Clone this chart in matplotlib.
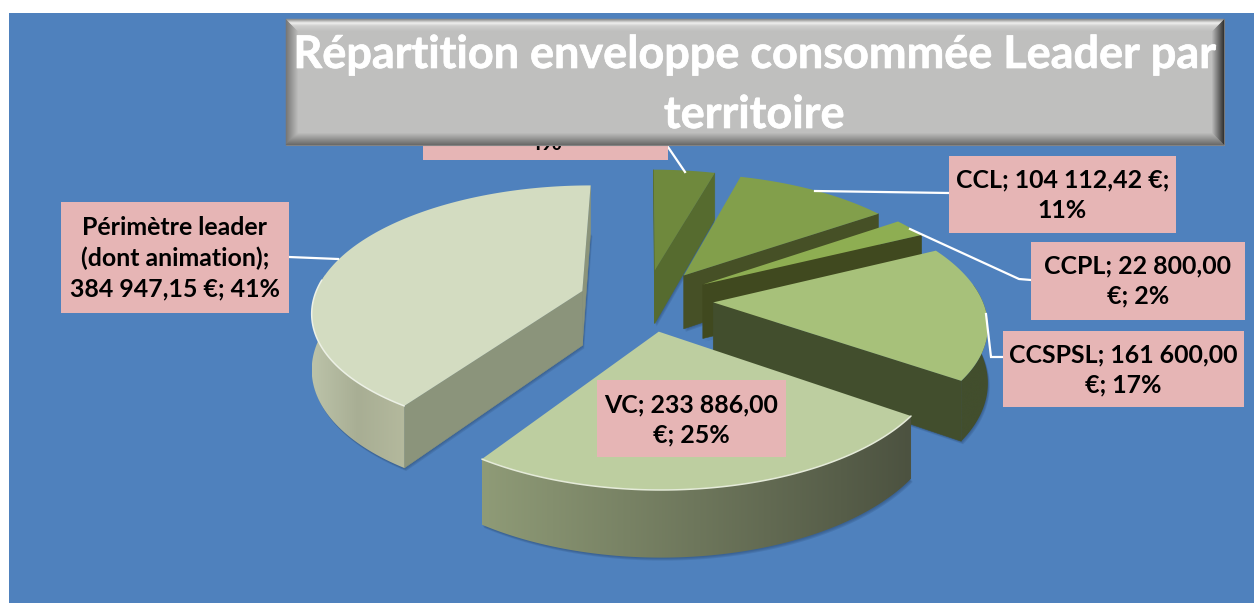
# -*- coding: utf-8 -*-
import numpy as np
import matplotlib
matplotlib.use("Agg")
import matplotlib.pyplot as plt
from matplotlib.colors import LinearSegmentedColormap, to_rgb
from matplotlib.patches import Polygon, Rectangle
import matplotlib.patheffects as pe

plt.rcParams["font.family"] = ["Lato", "DejaVu Sans"]

# Clockwise from the top. The amount of the 4% slice is hidden by the title, so it is an estimate.
values = [41000.00, 104112.42, 22800.00, 161600.00, 233886.00, 384947.15]

title_lines = ["Répartition enveloppe consommée Leader par", "territoire"]
labels = [
    "4%",
    "CCL; 104 112,42 €;\n11%",
    "CCPL; 22 800,00\n€; 2%",
    "CCSPSL; 161 600,00\n€; 17%",
    "VC; 233 886,00\n€; 25%",
    "Périmètre leader\n(dont animation);\n384 947,15 €; 41%",
]

# projection of the pie plane to pixels
CX, CY = 646, 300
RX, RY = 269, 124
PERSP = 0.15
EXPLODE = 0.25
DEPTH = 55

top_cols = ["#6f893d", "#829f4b", "#8eae52", "#a7c17a", "#bdcea0", "#d3dcc1"]
wall_cols = ["#566b2f", "#465026", "#40491f", "#424e2d", "#4c5240", "#8b947b"]
# rim colours, left to right
rim_cols = [["#566b2f", "#566b2f"], ["#465026", "#465026"], ["#40491f", "#40491f"],
            ["#424e2d", "#424e2d"], ["#8f9b77", "#4c5240"], ["#bcc3a9", "#a8ae94", "#b4b99d"]]
draw_order = [0, 1, 2, 3, 5, 4]

# x0, y0, x1, y1 of the label boxes
boxes = [
    (423, 100, 668, 160),
    (949, 156, 1176, 233),
    (1031, 242, 1245, 320),
    (1003, 331, 1244, 407),
    (597, 380, 786, 457),
    (61, 202, 289, 313),
]
text_y = [142, 195, 281, 370, 420, 258]
title_y = [55, 115]
leaders = [
    [(668, 147), (685, 172)],
    [(815, 191), (949, 193)],
    [(910, 229), (1019, 279), (1031, 280)],
    [(986, 314), (991, 357), (1003, 357)],
    [(289, 257), (338, 259)],
]


def project(x, y, down=0.0):
    w = 1 + PERSP * y
    return CX + RX * x / w, CY - RY * y / w + down / w


def mix(c1, c2, t):
    a = np.array(to_rgb(c1))
    b = np.array(to_rgb(c2))
    return tuple(a + (b - a) * t)


fig = plt.figure(figsize=(12.54, 6.04), dpi=100)
ax = fig.add_axes([0, 0, 1, 1])
ax.axis("off")
ax.add_patch(Rectangle((9, 13), 1245, 590, fc="#4f81bd", ec="none", zorder=0))

edges = np.concatenate([[0], np.cumsum(values)]) / np.sum(values) * 2 * np.pi

z = 1
for i in draw_order:
    a0, a1 = edges[i], edges[i + 1]
    mid = (a0 + a1) / 2
    ox, oy = EXPLODE * np.sin(mid), EXPLODE * np.cos(mid)
    t = np.linspace(a0, a1, 120)
    rx, ry = ox + np.sin(t), oy + np.cos(t)

    top = np.array([project(ox, oy)] + [project(a, b) for a, b in zip(rx, ry)])
    low = np.array([project(ox, oy, DEPTH)] + [project(a, b, DEPTH) for a, b in zip(rx, ry)])

    # soft shadow under the solid
    for sh in (3, 2, 1):
        ax.add_patch(Polygon(low + (sh * 0.6, sh), closed=True, fc="#1f3a5f", ec="none",
                             alpha=0.16, zorder=z))
    z += 1

    # radial walls that face the viewer
    inner = project(ox + 0.6 * np.sin(mid), oy + 0.6 * np.cos(mid))
    for j in (1, len(top) - 1):
        p, q = top[0], top[j]
        d = q - p
        side = d[0] * (inner[1] - p[1]) - d[1] * (inner[0] - p[0])
        above = side < 0 if d[0] > 0 else side > 0
        if above:
            ax.add_patch(Polygon([p, q, low[j], low[0]], closed=True, fc=wall_cols[i],
                                 ec=wall_cols[i], lw=0.4, zorder=z))
    z += 1

    # outer rim, only where it faces the viewer, with a left to right gradient
    vis = np.cos(t) < 0.15
    if vis.any():
        rim = np.vstack([top[1:][vis], low[1:][vis][::-1]])
        poly = Polygon(rim, closed=True, fc="none", ec="none", zorder=z)
        ax.add_patch(poly)
        cmap = LinearSegmentedColormap.from_list("rim", rim_cols[i])
        grad = np.linspace(0, 1, 256)[None, :]
        im = ax.imshow(grad, cmap=cmap, aspect="auto", zorder=z, interpolation="bilinear",
                       extent=(rim[:, 0].min(), rim[:, 0].max(), rim[:, 1].max(), rim[:, 1].min()))
        im.set_clip_path(poly)
    z += 1

    ax.add_patch(Polygon(top, closed=True, fc=top_cols[i], ec="none", zorder=z))
    z += 1
    # light bevel along the front of the rim
    front = np.cos(t) < 0.1
    if front.any() and i >= 4:
        ax.plot(top[1:, 0][front], top[1:, 1][front], color=mix(top_cols[i], "#ffffff", 0.6),
                lw=1.1, zorder=z, solid_capstyle="round")
    z += 1

for pts in leaders:
    pts = np.array(pts)
    ax.plot(pts[:, 0], pts[:, 1], color="white", lw=1.6, zorder=z, solid_joinstyle="miter")
z += 1

for lab, (x0, y0, x1, y1), ty in zip(labels, boxes, text_y):
    ax.add_patch(Rectangle((x0, y0), x1 - x0, y1 - y0, fc="#e6b5b5", ec="none", zorder=z))
    ax.text((x0 + x1) / 2, ty, lab, ha="center", va="center", fontsize=17.9, fontweight="bold",
            color="black", linespacing=1.38, zorder=z + 1)
z += 2

# title plate with a graded bevel
L, T, R, B = 286, 19, 1224, 145
bev = 13
ax.add_patch(Rectangle((L, T), R - L, B - T, fc="#bfbfbe", ec="#8a8a8a", lw=0.8, zorder=z))
top_ramp = [(0.0, "#8e8e8d"), (0.3, "#f0f0ef"), (0.55, "#cfcfce"), (1.0, "#bfbfbe")]
left_ramp = [(0.0, "#777776"), (1.0, "#bfbfbe")]
right_ramp = [(0.0, "#333333"), (1.0, "#bfbfbe")]
bottom_ramp = [(0.0, "#6a6a69"), (1.0, "#bfbfbe")]
for side, ramp in enumerate([left_ramp, right_ramp, bottom_ramp, top_ramp]):
    cmap = LinearSegmentedColormap.from_list("bev", ramp)
    for d in range(bev):
        a, b = d, d + 1
        col = cmap(d / (bev - 1))
        if side == 0:
            pts = [(L + a, T + a), (L + b, T + b), (L + b, B - b), (L + a, B - a)]
        elif side == 1:
            pts = [(R - a, T + a), (R - b, T + b), (R - b, B - b), (R - a, B - a)]
        elif side == 2:
            pts = [(L + a, B - a), (L + b, B - b), (R - b, B - b), (R - a, B - a)]
        else:
            pts = [(L + a, T + a), (L + b, T + b), (R - b, T + b), (R - a, T + a)]
        ax.add_patch(Polygon(pts, closed=True, fc=col, ec=col, lw=0.3, zorder=z + 1))
for line, ty in zip(title_lines, title_y):
    ax.text((L + R) / 2 - 1, ty, line, ha="center", va="center", fontsize=32.4, fontweight="bold",
            color="white", zorder=z + 3,
            path_effects=[pe.withStroke(linewidth=0.5, foreground="white")])

ax.set_xlim(0, 1254)
ax.set_ylim(604, 0)
fig.savefig("out.png", dpi=100)
